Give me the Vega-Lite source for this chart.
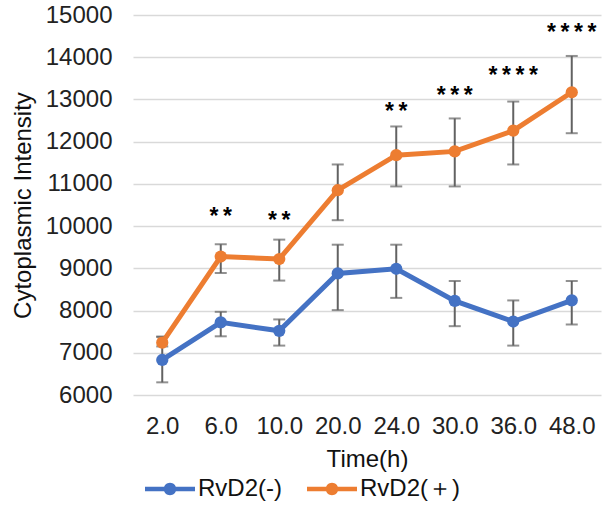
{
  "$schema": "https://vega.github.io/schema/vega-lite/v6.json",
  "width": 468,
  "height": 380,
  "autosize": {"type": "none"},
  "padding": {"left": 133, "top": 15, "right": 1, "bottom": 111},
  "background": "white",
  "config": {
    "view": {"stroke": null},
    "font": "Liberation Sans",
    "axis": {
      "labelFont": "Liberation Sans",
      "titleFont": "Liberation Sans",
      "labelFontSize": 24,
      "titleFontSize": 24,
      "titleFontWeight": "normal",
      "labelColor": "#222222",
      "titleColor": "#111111",
      "domain": false,
      "ticks": false
    },
    "legend": {
      "labelFont": "Liberation Sans",
      "labelFontSize": 24,
      "labelColor": "#111111"
    }
  },
  "datasets": {
    "main": [
      {"time": "2.0", "group": "RvD2(-)", "value": 6830, "lo": 6300, "hi": 7380},
      {"time": "6.0", "group": "RvD2(-)", "value": 7720, "lo": 7390, "hi": 7970},
      {"time": "10.0", "group": "RvD2(-)", "value": 7520, "lo": 7170, "hi": 7790},
      {"time": "20.0", "group": "RvD2(-)", "value": 8880, "lo": 8010, "hi": 9560},
      {"time": "24.0", "group": "RvD2(-)", "value": 8990, "lo": 8300, "hi": 9560},
      {"time": "30.0", "group": "RvD2(-)", "value": 8230, "lo": 7630, "hi": 8700},
      {"time": "36.0", "group": "RvD2(-)", "value": 7740, "lo": 7170, "hi": 8240},
      {"time": "48.0", "group": "RvD2(-)", "value": 8240, "lo": 7670, "hi": 8700},
      {"time": "2.0", "group": "RvD2(＋)", "value": 7240, "lo": 7150, "hi": 7380},
      {"time": "6.0", "group": "RvD2(＋)", "value": 9280, "lo": 8890, "hi": 9570},
      {"time": "10.0", "group": "RvD2(＋)", "value": 9220, "lo": 8710, "hi": 9680},
      {"time": "20.0", "group": "RvD2(＋)", "value": 10850, "lo": 10140, "hi": 11460},
      {"time": "24.0", "group": "RvD2(＋)", "value": 11680, "lo": 10940, "hi": 12360},
      {"time": "30.0", "group": "RvD2(＋)", "value": 11770, "lo": 10940, "hi": 12550},
      {"time": "36.0", "group": "RvD2(＋)", "value": 12260, "lo": 11460, "hi": 12950},
      {"time": "48.0", "group": "RvD2(＋)", "value": 13170, "lo": 12200, "hi": 14030}
    ],
    "sig": [
      {"time": "6.0", "label": "*\u2009*", "ypos": 10310},
      {"time": "10.0", "label": "*\u2009*", "ypos": 10220},
      {"time": "24.0", "label": "*\u2009*", "ypos": 12800},
      {"time": "30.0", "label": "*\u2009*\u2009*", "ypos": 13180},
      {"time": "36.0", "label": "*\u2009*\u2009*\u2009*", "ypos": 13660},
      {"time": "48.0", "label": "*\u2009*\u2009*\u2009*", "ypos": 14660}
    ]
  },
  "encoding": {
    "x": {
      "field": "time",
      "type": "ordinal",
      "sort": ["2.0", "6.0", "10.0", "20.0", "24.0", "30.0", "36.0", "48.0"],
      "scale": {"type": "point", "padding": 0.5, "domain": ["2.0", "6.0", "10.0", "20.0", "24.0", "30.0", "36.0", "48.0"]},
      "axis": {"title": "Time(h)", "labelAngle": 0, "labelPadding": 19, "titlePadding": 9, "grid": false}
    }
  },
  "layer": [
    {
      "data": {"name": "main"},
      "mark": {
        "type": "errorbar",
        "ticks": {"size": 12, "color": "#626262", "thickness": 2},
        "rule": {"color": "#626262", "strokeWidth": 2}
      },
      "encoding": {
        "y": {"field": "lo", "type": "quantitative", "title": "Cytoplasmic Intensity",
              "scale": {"domain": [6000, 15000], "nice": false},
              "axis": {"values": [6000, 7000, 8000, 9000, 10000, 11000, 12000, 13000, 14000, 15000], "format": "d", "grid": true, "gridColor": "#d9d9d9", "gridWidth": 1.5, "labelPadding": 21, "titlePadding": 10}},
        "y2": {"field": "hi"},
        "detail": {"field": "group"}
      }
    },
    {
      "data": {"name": "main"},
      "mark": {"type": "line", "strokeWidth": 5},
      "encoding": {
        "y": {"field": "value", "type": "quantitative", "title": "Cytoplasmic Intensity", "scale": {"domain": [6000, 15000], "nice": false}},
        "color": {"field": "group", "type": "nominal",
                  "scale": {"domain": ["RvD2(-)", "RvD2(＋)"], "range": ["#4472C4", "#ED7D31"]},
                  "legend": {"title": null, "orient": "none", "direction": "horizontal", "legendX": 12, "legendY": 449,
                             "symbolType": "M-1,-0.09 L1,-0.09 L1,0.09 L-1,0.09 Z M-0.25,0 A0.25,0.25 0 1,1 0.25,0 A0.25,0.25 0 1,1 -0.25,0 Z",
                             "symbolSize": 2500, "symbolStrokeWidth": 0, "labelOffset": 3, "columnPadding": 25}}
      }
    },
    {
      "data": {"name": "main"},
      "mark": {"type": "point", "filled": true, "size": 150, "opacity": 1},
      "encoding": {
        "y": {"field": "value", "type": "quantitative", "title": "Cytoplasmic Intensity", "scale": {"domain": [6000, 15000], "nice": false}},
        "color": {"field": "group", "type": "nominal", "scale": {"domain": ["RvD2(-)", "RvD2(＋)"], "range": ["#4472C4", "#ED7D31"]}}
      }
    },
    {
      "data": {"name": "sig"},
      "mark": {"type": "text", "fontSize": 23, "fontWeight": "bold", "font": "Liberation Sans", "color": "#000000", "baseline": "middle", "dy": 4},
      "encoding": {
        "y": {"field": "ypos", "type": "quantitative", "title": "Cytoplasmic Intensity", "scale": {"domain": [6000, 15000], "nice": false}},
        "text": {"field": "label"}
      }
    }
  ]
}
